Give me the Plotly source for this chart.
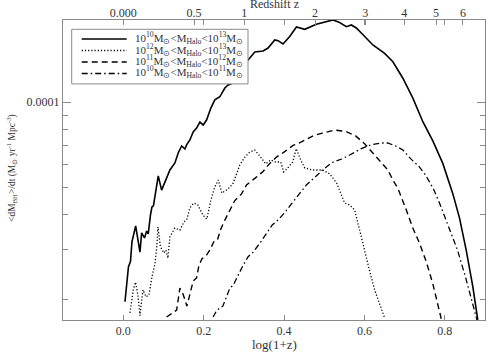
import numpy as np
import plotly.graph_objects as go

# log(1+z) and <dM_BH/dt> in units of 1e-5 Msun/yr/Mpc^3
x_all = [0.0042,0.0129,0.0179,0.0216,0.0308,0.0415,0.0457,0.0527,0.0581,0.0621,0.0676,0.0713,0.0750,
         0.0837,0.0870,0.0954,0.1078,0.1160,0.1284,0.1366,0.1451,0.1533,0.1575,0.1657,0.1739,0.1824,
         0.1906,0.1988,0.2072,0.2179,0.2278,0.2402,0.2527,0.2609,0.2733,0.2775,0.2899,0.3066,0.3272,
         0.3478,0.3602,0.3769,0.3851,0.3975,0.4141,0.4308,0.4514,0.4805,0.5217,0.5384,0.5550,0.5675,
         0.5799,0.5963,0.6129,0.6211,0.6502,0.6708,0.6957,0.7205,0.7453,0.7702,0.7950,0.8199,0.8365,
         0.8532,0.8696,0.8820]
y_all = [1.96,2.61,2.72,3.20,3.64,2.94,3.44,3.30,3.49,3.41,3.98,4.25,4.29,
         5.22,5.48,4.88,5.43,5.75,6.09,6.61,7.00,6.83,7.06,7.35,7.85,8.10,
         8.51,8.31,8.65,9.54,10.2,10.46,11.24,11.52,11.71,12.50,13.45,13.90,15.09,
         15.21,15.58,16.64,16.55,16.10,17.11,18.50,18.15,18.93,19.6,19.2,18.55,18.81,
         18.35,17.34,16.41,15.97,14.92,13.92,12.17,10.34,8.53,7.29,6.07,4.74,3.89,
         2.99,2.22,1.69]

x_hi = [0.0166,0.0248,0.0303,0.0365,0.0415,0.0489,0.0564,0.0639,0.0713,0.0788,0.0837,0.0862,0.0924,
        0.1011,0.1061,0.1111,0.1160,0.1284,0.1409,0.1508,0.1583,0.1657,0.1756,0.1856,0.1980,0.2079,
        0.2179,0.2278,0.2365,0.2452,0.2601,0.2725,0.2899,0.3023,0.3148,0.3272,0.3396,0.3545,0.3669,
        0.3793,0.3917,0.3992,0.4092,0.4216,0.4303,0.4415,0.4514,0.4713,0.4961,0.5135,0.5309,0.5508,
        0.5632,0.5756,0.5881,0.6005,0.6129,0.6253,0.6377,0.6502]
y_hi = [1.79,2.16,2.30,2.07,1.75,2.16,2.04,2.07,2.40,2.67,3.12,3.61,3.07,
        2.92,2.99,2.80,3.33,3.58,3.52,3.76,3.85,4.22,4.39,4.32,3.98,3.85,
        4.50,5.01,5.30,4.76,4.92,5.13,5.99,6.39,6.66,6.77,6.45,6.04,6.24,
        6.14,6.14,5.66,5.85,6.14,6.85,6.24,5.85,5.75,5.75,5.57,5.17,4.39,
        4.32,4.15,3.52,2.94,2.52,2.16,1.93,1.72]

x_mid = [0.1078,0.1327,0.1409,0.1491,0.1583,0.1657,0.1739,0.1824,0.1881,0.1955,0.2072,0.2154,0.2253,
         0.2340,0.2427,0.2527,0.2609,0.2775,0.2942,0.3066,0.3272,0.3478,0.3645,0.3811,0.4017,0.4224,
         0.4432,0.4720,0.4949,0.5259,0.5550,0.5781,0.6005,0.6211,0.6420,0.6584,0.6708,0.6832,0.7041,
         0.7205,0.7371,0.7538,0.7702,0.7826,0.7918]
y_mid = [1.73,1.83,2.19,2.08,1.89,2.10,2.32,2.38,2.63,2.78,2.87,2.99,3.20,
         3.24,3.55,3.82,4.04,4.48,4.73,5.09,5.37,5.68,6.07,6.39,6.68,7.03,
         7.23,7.60,7.77,7.97,7.87,7.60,7.12,6.60,6.13,5.75,5.30,4.95,4.15,
         3.58,3.16,2.72,2.27,1.94,1.69]

x_lo = [0.2236,0.2328,0.2477,0.2569,0.2651,0.2733,0.2857,0.2981,0.3106,0.3230,0.3396,0.3563,0.3707,
        0.3851,0.4017,0.4184,0.4348,0.4557,0.4788,0.4986,0.5197,0.5434,0.5632,0.5923,0.6154,0.6420,
        0.6577,0.6775,0.6957,0.7148,0.7347,0.7521,0.7719,0.7868,0.8067,0.8315,0.8514,0.8676,0.8800]
y_lo = [1.73,1.83,1.89,2.04,2.19,2.24,2.44,2.64,2.83,2.94,3.16,3.44,3.67,
        3.82,4.06,4.36,4.68,5.09,5.45,5.80,6.11,6.29,6.50,6.85,7.06,7.17,
        7.17,7.00,6.77,6.31,5.94,5.52,4.92,4.39,3.70,2.99,2.40,1.96,1.69]

unit = 1e-5
names = ["10<sup>10</sup>M<sub>⊙</sub>&lt;M<sub>Halo</sub>&lt;10<sup>13</sup>M<sub>⊙</sub>",
         "10<sup>12</sup>M<sub>⊙</sub>&lt;M<sub>Halo</sub>&lt;10<sup>13</sup>M<sub>⊙</sub>",
         "10<sup>11</sup>M<sub>⊙</sub>&lt;M<sub>Halo</sub>&lt;10<sup>12</sup>M<sub>⊙</sub>",
         "10<sup>10</sup>M<sub>⊙</sub>&lt;M<sub>Halo</sub>&lt;10<sup>11</sup>M<sub>⊙</sub>"]
dashes = ["solid", "1.2px,2px", "6px,4px", "6px,3px,1.5px,3px"]
widths = [1.6, 1.3, 1.4, 1.3]

z_ticks = [0, 0.5, 1, 2, 3, 4, 5, 6]
z_labels = ["0.000", "0.5", "1", "2", "3", "4", "5", "6"]
x_ticks = [0.0, 0.2, 0.4, 0.6, 0.8]
x_labels = ["0.0", "0.2", "0.4", "0.6", "0.8"]
y_minor = [2e-5, 3e-5, 4e-5, 5e-5, 6e-5, 7e-5, 8e-5, 9e-5]

FONT = "Liberation Serif"
AX = "#8a8a8a"
TXT = "#333333"

fig = go.Figure()
for xs, ys, nm, ds, w in zip([x_all, x_hi, x_mid, x_lo], [y_all, y_hi, y_mid, y_lo], names, dashes, widths):
    fig.add_trace(go.Scatter(x=xs, y=[v * unit for v in ys], mode="lines", name=nm, showlegend=False,
                             line=dict(color="black", width=w, dash=ds)))

# carrier trace for the top redshift axis
fig.add_trace(go.Scatter(x=[-0.15, 0.9], y=[1e-4, 1e-4], xaxis="x2", mode="lines",
                         line=dict(width=0, color="rgba(0,0,0,0)"), showlegend=False, hoverinfo="skip"))

# hand-built legend (box, line keys, labels) in paper coordinates
shapes = [dict(type="rect", xref="paper", yref="paper", x0=0.0206, x1=0.4384, y0=0.787, y1=0.969,
               line=dict(color=AX, width=1), fillcolor="white", layer="above")]
annotations = []
row_y = [0.9367, 0.8983, 0.8600, 0.8217]
for ry, nm, ds, w in zip(row_y, names, dashes, widths):
    shapes.append(dict(type="line", xref="paper", yref="paper", x0=0.0443, x1=0.151, y0=ry, y1=ry,
                       line=dict(color="black", width=w, dash=ds), layer="above"))
    annotations.append(dict(text=nm, xref="paper", yref="paper", x=0.1652, y=ry, xanchor="left",
                            yanchor="middle", showarrow=False, yshift=1,
                            font=dict(size=11, family=FONT, color=TXT)))

annotations += [
    dict(text="Redshift z", xref="paper", yref="paper", x=0.5, y=1.0, yshift=16,
         xanchor="center", yanchor="middle", showarrow=False,
         font=dict(size=12, family=FONT, color=TXT)),
    dict(text="log(1+z)", xref="paper", yref="paper", x=0.5, y=-0.0833,
         xanchor="center", yanchor="middle", showarrow=False,
         font=dict(size=13, family=FONT, color=TXT)),
    dict(text="&lt;dM<sub>BH</sub>&gt;/dt (M<sub>⊙</sub> yr<sup>-1</sup> Mpc<sup>-3</sup>)",
         xref="paper", yref="paper", x=-0.1209, y=0.507, textangle=-90,
         xanchor="center", yanchor="middle", showarrow=False,
         font=dict(size=9.5, family=FONT, color=TXT)),
]

fig.update_layout(
    width=504, height=360,
    margin=dict(l=63, r=19, t=20, b=40),
    paper_bgcolor="white", plot_bgcolor="white",
    font=dict(family=FONT, size=12, color=TXT),
    showlegend=False, hovermode=False,
    shapes=shapes, annotations=annotations,
    xaxis=dict(range=[-0.15, 0.9], tickvals=x_ticks, ticktext=x_labels, automargin=False,
               ticks="inside", ticklen=5, tickcolor=AX, showline=True, linecolor=AX, linewidth=1,
               mirror="ticks", showgrid=False, zeroline=False,
               tickfont=dict(size=12, family=FONT, color=TXT)),
    xaxis2=dict(range=[-0.15, 0.9], overlaying="x", side="top", anchor="y", automargin=False,
                tickvals=[float(np.log10(1 + z)) for z in z_ticks], ticktext=z_labels,
                ticks="inside", ticklen=5, tickcolor=AX, showline=False, showgrid=False, zeroline=False,
                tickfont=dict(size=12, family=FONT, color=TXT)),
    yaxis=dict(type="log", range=[-4.7726, -3.708], tickvals=[1e-4], ticktext=["0.0001"], automargin=False,
               ticks="inside", ticklen=8, tickcolor=AX, showline=True, linecolor=AX, linewidth=1,
               mirror="ticks", showgrid=False, zeroline=False,
               minor=dict(tickvals=y_minor, ticks="inside", ticklen=5, tickcolor=AX, showgrid=False),
               tickfont=dict(size=12, family=FONT, color=TXT)),
)

fig.write_html("out.html", config={"displayModeBar": False, "staticPlot": True},
               post_script="document.body.style.margin='0';document.body.style.overflow='hidden';")
